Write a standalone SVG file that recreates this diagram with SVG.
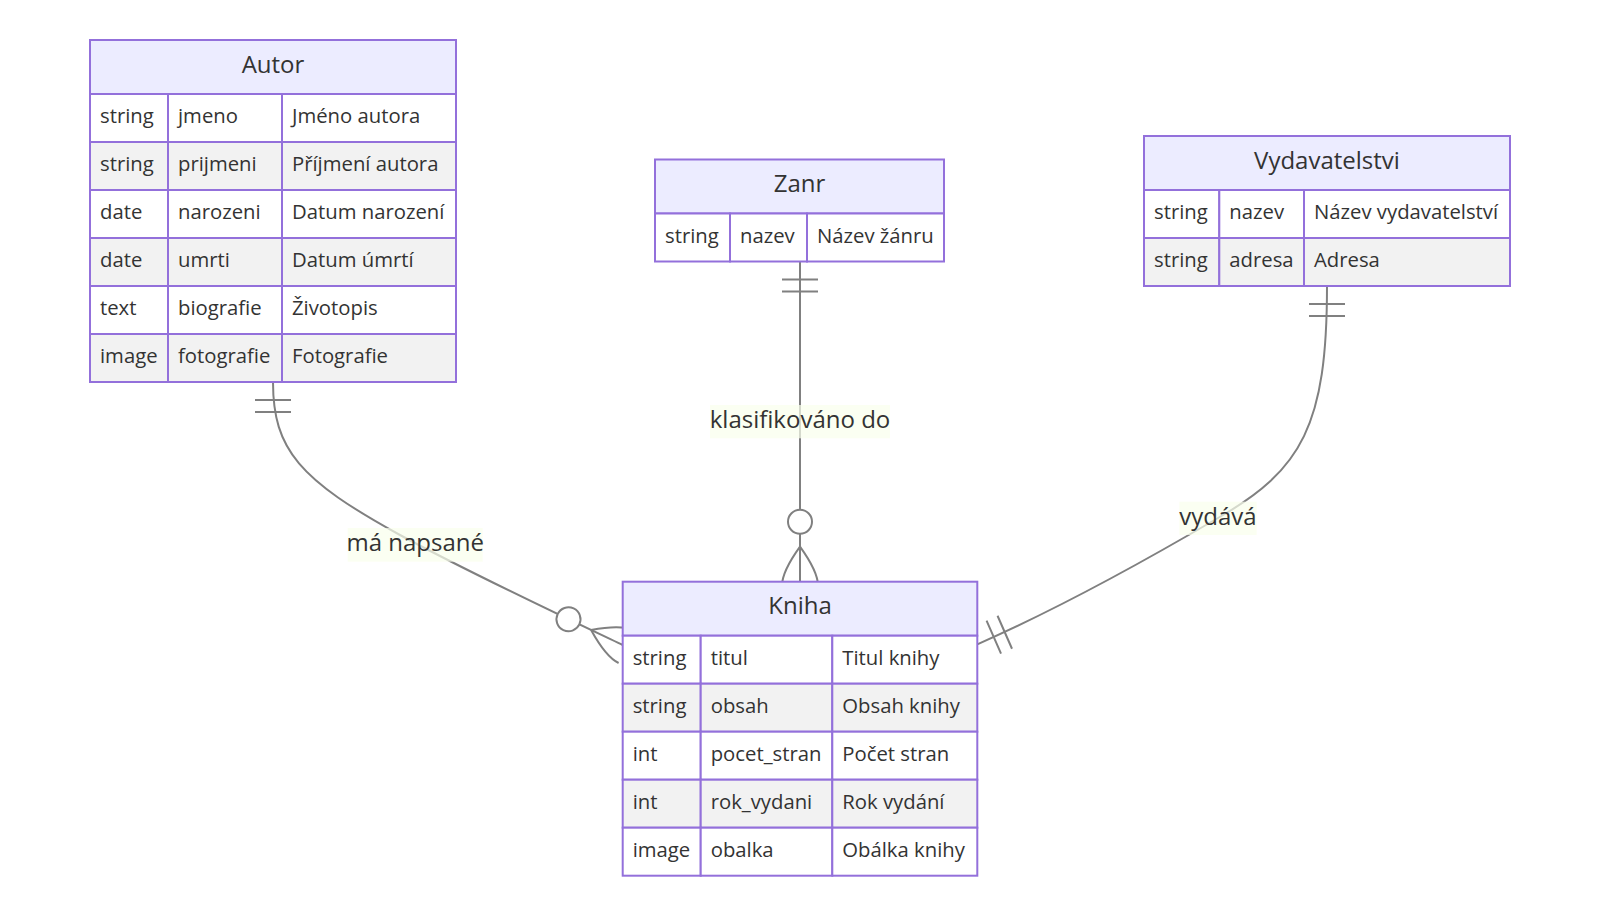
<svg xmlns="http://www.w3.org/2000/svg" width="1600" height="916" viewBox="0 0 1600 916">
<style>
.bg{fill:#ffffff}
.edge{fill:none;stroke:#808080;stroke-width:2}
.mk{fill:none;stroke:#808080;stroke-width:2}
.mkc{fill:#ffffff;stroke:#808080;stroke-width:2}
.lblbox{fill:#f9ffec;opacity:0.7}
.lbl{font-family:"Open Sans","Liberation Sans",sans-serif;font-size:24px;fill:#333333;text-anchor:middle}
.hdr{fill:#ececff;stroke:#9370db;stroke-width:2}
.odd{fill:#ffffff;stroke:#9370db;stroke-width:2}
.even{fill:#f2f2f2;stroke:#9370db;stroke-width:2}
.title{font-family:"Open Sans","Liberation Sans",sans-serif;font-size:24px;fill:#333333;text-anchor:middle}
.attr{font-family:"Open Sans","Liberation Sans",sans-serif;font-size:20.3px;fill:#333333}
</style>
<defs>
<marker id="oneStart" markerUnits="userSpaceOnUse" orient="auto" refX="0" refY="0" markerWidth="40" markerHeight="40" overflow="visible">
<path class="mk" d="M18,-18 L18,18 M30,-18 L30,18"/>
</marker>
<marker id="oneEnd" markerUnits="userSpaceOnUse" orient="auto" refX="0" refY="0" markerWidth="40" markerHeight="40" overflow="visible">
<path class="mk" d="M-18,-18 L-18,18 M-30,-18 L-30,18"/>
</marker>
<marker id="zeroManyEnd" markerUnits="userSpaceOnUse" orient="auto" refX="0" refY="0" markerWidth="80" markerHeight="40" overflow="visible">
<circle class="mkc" cx="-60" cy="0" r="12"/>
<path class="mk" d="M-35,0 Q-10,-18 4,-18 M-35,0 Q-10,18 4,18"/>
</marker>
</defs>
<rect class="bg" x="0" y="0" width="1600" height="916"/>

<g id="connectors">
<path class="edge" d="M273,382 C273,450 300,480 400,535 C470,573 570,620 622.7,645" marker-start="url(#oneStart)" marker-end="url(#zeroManyEnd)"/>
<path class="edge" d="M800,261.5 L800,581.7" marker-start="url(#oneStart)" marker-end="url(#zeroManyEnd)"/>
<path class="edge" d="M1327,286 C1327,425 1302,470 1218,518 C1148,559 1060,608 977.3,644.3" marker-start="url(#oneStart)" marker-end="url(#oneEnd)"/>
<rect class="lblbox" x="347.7" y="528" width="135" height="33.7"/>
<text class="lbl" x="415.2" y="551">má napsané</text>
<rect class="lblbox" x="710" y="405" width="180" height="33.3"/>
<text class="lbl" x="800" y="428">klasifikováno do</text>
<rect class="lblbox" x="1179.3" y="501.7" width="77.4" height="33.3"/>
<text class="lbl" x="1218" y="524.7">vydává</text>
</g>

<g id="Autor">
<rect class="hdr" x="90" y="40" width="366" height="54"/>
<text class="title" x="273" y="72.7">Autor</text>
<rect class="odd" x="90" y="94" width="78" height="48"/><rect class="odd" x="168" y="94" width="114" height="48"/><rect class="odd" x="282" y="94" width="174" height="48"/>
<rect class="even" x="90" y="142" width="78" height="48"/><rect class="even" x="168" y="142" width="114" height="48"/><rect class="even" x="282" y="142" width="174" height="48"/>
<rect class="odd" x="90" y="190" width="78" height="48"/><rect class="odd" x="168" y="190" width="114" height="48"/><rect class="odd" x="282" y="190" width="174" height="48"/>
<rect class="even" x="90" y="238" width="78" height="48"/><rect class="even" x="168" y="238" width="114" height="48"/><rect class="even" x="282" y="238" width="174" height="48"/>
<rect class="odd" x="90" y="286" width="78" height="48"/><rect class="odd" x="168" y="286" width="114" height="48"/><rect class="odd" x="282" y="286" width="174" height="48"/>
<rect class="even" x="90" y="334" width="78" height="48"/><rect class="even" x="168" y="334" width="114" height="48"/><rect class="even" x="282" y="334" width="174" height="48"/>
<text class="attr" x="100" y="123.2">string</text><text class="attr" x="178" y="123.2">jmeno</text><text class="attr" x="292" y="123.2">Jméno autora</text>
<text class="attr" x="100" y="171.2">string</text><text class="attr" x="178" y="171.2">prijmeni</text><text class="attr" x="292" y="171.2">Příjmení autora</text>
<text class="attr" x="100" y="219.2">date</text><text class="attr" x="178" y="219.2">narozeni</text><text class="attr" x="292" y="219.2">Datum narození</text>
<text class="attr" x="100" y="267.2">date</text><text class="attr" x="178" y="267.2">umrti</text><text class="attr" x="292" y="267.2">Datum úmrtí</text>
<text class="attr" x="100" y="315.2">text</text><text class="attr" x="178" y="315.2">biografie</text><text class="attr" x="292" y="315.2">Životopis</text>
<text class="attr" x="100" y="363.2">image</text><text class="attr" x="178" y="363.2">fotografie</text><text class="attr" x="292" y="363.2">Fotografie</text>
</g>

<g id="Zanr">
<rect class="hdr" x="655" y="159.5" width="289" height="54"/>
<text class="title" x="799.5" y="192.2">Zanr</text>
<rect class="odd" x="655" y="213.5" width="75" height="48"/><rect class="odd" x="730" y="213.5" width="77" height="48"/><rect class="odd" x="807" y="213.5" width="137" height="48"/>
<text class="attr" x="665" y="242.7">string</text><text class="attr" x="740" y="242.7">nazev</text><text class="attr" x="817" y="242.7">Název žánru</text>
</g>

<g id="Vydavatelstvi">
<rect class="hdr" x="1144" y="136" width="366" height="54"/>
<text class="title" x="1327" y="168.7">Vydavatelstvi</text>
<rect class="odd" x="1144" y="190" width="75.3" height="48"/><rect class="odd" x="1219.3" y="190" width="84.7" height="48"/><rect class="odd" x="1304" y="190" width="206" height="48"/>
<rect class="even" x="1144" y="238" width="75.3" height="48"/><rect class="even" x="1219.3" y="238" width="84.7" height="48"/><rect class="even" x="1304" y="238" width="206" height="48"/>
<text class="attr" x="1154" y="219.2">string</text><text class="attr" x="1229.3" y="219.2">nazev</text><text class="attr" x="1314" y="219.2">Název vydavatelství</text>
<text class="attr" x="1154" y="267.2">string</text><text class="attr" x="1229.3" y="267.2">adresa</text><text class="attr" x="1314" y="267.2">Adresa</text>
</g>

<g id="Kniha">
<rect class="hdr" x="622.7" y="581.7" width="354.6" height="54"/>
<text class="title" x="800" y="614.4">Kniha</text>
<rect class="odd" x="622.7" y="635.7" width="78" height="48"/><rect class="odd" x="700.7" y="635.7" width="131.6" height="48"/><rect class="odd" x="832.3" y="635.7" width="145" height="48"/>
<rect class="even" x="622.7" y="683.7" width="78" height="48"/><rect class="even" x="700.7" y="683.7" width="131.6" height="48"/><rect class="even" x="832.3" y="683.7" width="145" height="48"/>
<rect class="odd" x="622.7" y="731.7" width="78" height="48"/><rect class="odd" x="700.7" y="731.7" width="131.6" height="48"/><rect class="odd" x="832.3" y="731.7" width="145" height="48"/>
<rect class="even" x="622.7" y="779.7" width="78" height="48"/><rect class="even" x="700.7" y="779.7" width="131.6" height="48"/><rect class="even" x="832.3" y="779.7" width="145" height="48"/>
<rect class="odd" x="622.7" y="827.7" width="78" height="48"/><rect class="odd" x="700.7" y="827.7" width="131.6" height="48"/><rect class="odd" x="832.3" y="827.7" width="145" height="48"/>
<text class="attr" x="632.7" y="664.9">string</text><text class="attr" x="710.7" y="664.9">titul</text><text class="attr" x="842.3" y="664.9">Titul knihy</text>
<text class="attr" x="632.7" y="712.9">string</text><text class="attr" x="710.7" y="712.9">obsah</text><text class="attr" x="842.3" y="712.9">Obsah knihy</text>
<text class="attr" x="632.7" y="760.9">int</text><text class="attr" x="710.7" y="760.9">pocet_stran</text><text class="attr" x="842.3" y="760.9">Počet stran</text>
<text class="attr" x="632.7" y="808.9">int</text><text class="attr" x="710.7" y="808.9">rok_vydani</text><text class="attr" x="842.3" y="808.9">Rok vydání</text>
<text class="attr" x="632.7" y="856.9">image</text><text class="attr" x="710.7" y="856.9">obalka</text><text class="attr" x="842.3" y="856.9">Obálka knihy</text>
</g>
</svg>
